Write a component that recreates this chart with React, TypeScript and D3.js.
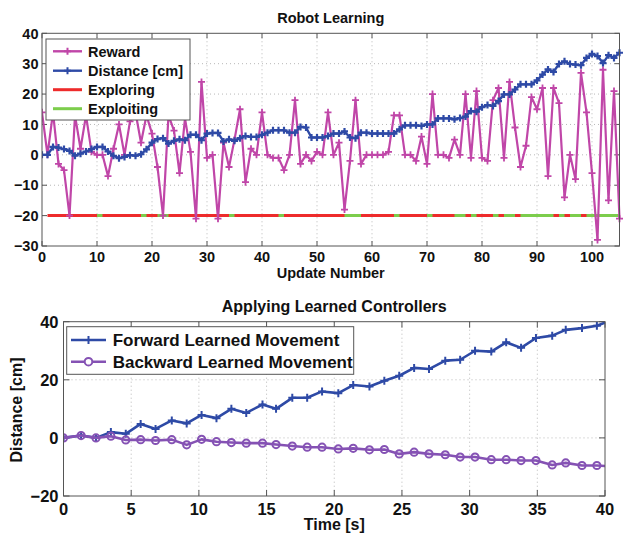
import React from 'react';
import * as d3 from 'd3';

// ---------- Top chart data ----------
const rewardValues = [
  14, 0, 14, -3, -5, -20, 13, 2, 13, 1,
  0, 0, -7, 2, 10, 0, 11, 14, 4, 13,
  7, -4, -20, 13, 8, -6, 12, 1, -21, 24,
  -1, 0, -21, 4, -4, 5, 15, -9, 2, 0,
  14, 0, -1, -1, -5, 0, 18, -3, 0, -2,
  1, 0, 14, 0, 4, -18, -2, 18, -3, 0,
  0, 0, 0, 1, 13, 13, 0, 0, -2, 6,
  -3, 20, 0, 0, -1, 5, 0, 20, -1, 21,
  -1, -2, 18, 22, -1, 24, 9, -4, 3, 19,
  15, 22, -7, 22, 17, -14, 0, -8, 27, 14,
  -6, -28, 28, -15, 21, -21,
];
const distanceValues = [
  0, 0, 2.6, 2.4, 1.9, 1.3, -0.3, 0.4, 1.1, 1.9,
  2.6, 2.6, 1.1, -0.3, -1.1, -0.7, -0.1, -0.3, 0.2, 1.8,
  4.0, 5.2, 5.5, 3.7, 4.6, 5.1, 4.8, 6.6, 6.6, 4.8,
  7.0, 7.2, 7.2, 4.4, 5.1, 4.6, 5.5, 6.2, 5.9, 5.9,
  6.6, 7.3, 8.1, 8.1, 8.1, 7.3, 7.3, 9.2, 9.0, 5.7,
  5.7, 5.7, 6.2, 7.0, 7.0, 7.7, 5.7, 5.5, 7.3, 7.3,
  7.0, 7.0, 7.0, 7.0, 7.0, 8.4, 9.7, 9.7, 9.7, 9.5,
  10.0, 10.0, 12.0, 12.0, 12.0, 11.7, 12.1, 12.6, 14.4, 14.2,
  15.7, 16.4, 16.1, 17.7, 19.9, 19.9, 21.5, 23.2, 23.2, 23.2,
  24.5, 26.4, 28.1, 27.3, 29.9, 30.8, 29.9, 29.7, 29.5, 31.9,
  33.2, 32.5, 30.2, 32.8, 31.9, 33.6,
];
const updateNumbers = rewardValues.map((_, i) => i);
const phaseFirstUpdate = 1;
const phaseLastUpdate = 105;
const phaseLevel = -20;
const exploitStarts = [10, 18, 21, 34, 43, 55, 64, 70, 75, 78, 82, 84, 87, 94, 96, 99];
const exploitEnds = [11, 19, 23, 35, 44, 58, 65, 71, 77, 79, 83, 86, 93, 95, 98, 105];
const topXTicks = [0, 10, 20, 30, 40, 50, 60, 70, 80, 90, 100];
const topYTicks = [-30, -20, -10, 0, 10, 20, 30, 40];
const topLegend = ['Reward', 'Distance [cm]', 'Exploring', 'Exploiting'];

// ---------- Bottom chart data ----------
const timeSeconds = [
  0, 1.3, 2.4, 3.5, 4.6, 5.7, 6.8, 8.0, 9.1, 10.2,
  11.3, 12.4, 13.5, 14.7, 15.7, 16.9, 18.0, 19.1, 20.3, 21.4,
  22.6, 23.7, 24.8, 25.9, 27.0, 28.2, 29.3, 30.4, 31.6, 32.7,
  33.8, 34.9, 36.1, 37.1, 38.3, 39.4, 40.5,
];
const forwardDistance = [
  0, 0.8, 0, 2, 1.4, 4.8, 3.1, 6, 5, 7.9,
  6.8, 10, 8.6, 11.5, 10, 13.8, 13.8, 16, 15.4, 18.2,
  17.7, 19.7, 21.4, 24.1, 23.7, 26.6, 26.9, 30, 29.7, 32.9,
  31, 34.4, 35.2, 37.2, 37.8, 38.6, 40.6,
];
const backwardDistance = [
  0, 0.8, 0, 0.6, -0.7, -0.6, -0.9, -0.6, -2.4, -0.5,
  -1.3, -1.6, -1.8, -1.8, -2.3, -2.8, -3.2, -3.2, -3.8, -3.6,
  -4.1, -4.0, -5.5, -4.9, -5.5, -5.8, -6.6, -6.6, -7.5, -7.5,
  -7.8, -7.8, -9.3, -8.6, -9.5, -9.5, -9.8,
];
const botXTicks = [0, 5, 10, 15, 20, 25, 30, 35, 40];
const botYTicks = [-20, 0, 20, 40];
const botLegend = ['Forward Learned Movement', 'Backward Learned Movement'];

// ---------- Styles ----------
const FONT = '"Liberation Sans", Arial, Helvetica, sans-serif';
const C_REWARD = '#c046a8';
const C_DIST = '#2e4aa6';
const C_RED = '#ee2b2b';
const C_GREEN = '#7ccd4c';
const C_FWD = '#2e4aa6';
const C_BWD = '#8552b4';
const GRID = '#b8b8b8';
const FRAME = '#555';

const plusPath = (x: number, y: number, h: number) =>
  `M${x - h},${y}H${x + h}M${x},${y - h}V${y + h}`;

function Frame({ x0, x1, y0, y1, xs, ys, xScale, yScale, tick }: any) {
  return (
    <g>
      {xs.map((t: number) => {
        const px = xScale(t);
        return (
          <g key={'gx' + t}>
            {px > x0 + 1 && px < x1 - 1 && (
              <line x1={px} x2={px} y1={y0} y2={y1} stroke={GRID} strokeWidth={1} strokeDasharray="1,3" />
            )}
            <line x1={px} x2={px} y1={y1} y2={y1 - tick} stroke={FRAME} strokeWidth={1} />
            <line x1={px} x2={px} y1={y0} y2={y0 + tick} stroke={FRAME} strokeWidth={1} />
          </g>
        );
      })}
      {ys.map((t: number) => {
        const py = yScale(t);
        return (
          <g key={'gy' + t}>
            {py > y0 + 1 && py < y1 - 1 && (
              <line x1={x0} x2={x1} y1={py} y2={py} stroke={GRID} strokeWidth={1} strokeDasharray="1,3" />
            )}
            <line x1={x0} x2={x0 + tick} y1={py} y2={py} stroke={FRAME} strokeWidth={1} />
            <line x1={x1} x2={x1 - tick} y1={py} y2={py} stroke={FRAME} strokeWidth={1} />
          </g>
        );
      })}
    </g>
  );
}

export default function App() {
  const xT = d3.scaleLinear().domain([0, 105]).range([42, 619.5]);
  const yT = d3.scaleLinear().domain([-30, 40]).range([246, 33.3]);
  const xB = d3.scaleLinear().domain([0, 40]).range([63.5, 605]);
  const yB = d3.scaleLinear().domain([-20, 40]).range([496, 321.7]);

  const lineT = d3.line<number>().x((_, i) => xT(updateNumbers[i])).y((d) => yT(d));
  const lineB = d3.line<number>().x((_, i) => xB(timeSeconds[i])).y((d) => yB(d));

  const tx0 = xT(0), tx1 = xT(105), ty0 = yT(40), ty1 = yT(-30);
  const bx0 = xB(0), bx1 = xB(40), by0 = yB(40), by1 = yB(-20);
  const tCx = (tx0 + tx1) / 2;
  const bCx = (bx0 + bx1) / 2;

  const topFont = 14.5;
  const botFont = 16.5;

  const tl = { x: 46, y: 39, w: 144, h: 81 };
  const tlRows = [51.3, 70.7, 89.7, 108.7];
  const tlColors = [C_REWARD, C_DIST, C_RED, C_GREEN];
  const bl = { x: 66.7, y: 326.7, w: 287, h: 47.6 };
  const blRows = [340, 361.7];

  return (
    <svg width={624} height={533} style={{ position: 'absolute', left: 0, top: 0, background: '#fff' }}
      fontFamily={FONT} fontWeight="bold">
      <defs>
        <clipPath id="clipTop"><rect x={tx0} y={ty0} width={tx1 - tx0 + 4} height={ty1 - ty0} /></clipPath>
        <clipPath id="clipBot"><rect x={bx0} y={by0} width={bx1 - bx0} height={by1 - by0} /></clipPath>
      </defs>
      <rect x={0} y={0} width={624} height={533} fill="#fff" />

      {/* ================= TOP CHART ================= */}
      <Frame x0={tx0} x1={tx1} y0={ty0} y1={ty1} xs={topXTicks} ys={topYTicks} xScale={xT} yScale={yT} tick={5} />

      <g clipPath="url(#clipTop)">
        <line x1={xT(phaseFirstUpdate)} x2={xT(phaseLastUpdate)} y1={yT(phaseLevel)} y2={yT(phaseLevel)}
          stroke={C_RED} strokeWidth={3} />
        {exploitStarts.map((s, i) => (
          <line key={'ex' + i} x1={xT(s)} x2={xT(exploitEnds[i])} y1={yT(phaseLevel)} y2={yT(phaseLevel)}
            stroke={C_GREEN} strokeWidth={3} />
        ))}
        <path d={lineT(rewardValues) || ''} fill="none" stroke={C_REWARD} strokeWidth={2.2} strokeLinejoin="round" />
        <path d={rewardValues.map((v, i) => plusPath(xT(updateNumbers[i]), yT(v), 3.5)).join('')}
          stroke={C_REWARD} strokeWidth={1.8} fill="none" />
        <path d={lineT(distanceValues) || ''} fill="none" stroke={C_DIST} strokeWidth={2.4} strokeLinejoin="round" />
        <path d={distanceValues.map((v, i) => plusPath(xT(updateNumbers[i]), yT(v), 3.5)).join('')}
          stroke={C_DIST} strokeWidth={2.2} fill="none" />
      </g>
      <rect x={tx0} y={ty0} width={tx1 - tx0} height={ty1 - ty0} fill="none" stroke={FRAME} strokeWidth={1} />

      {topXTicks.map((t) => (
        <text key={'tx' + t} x={xT(t)} y={261.5} textAnchor="middle" fontSize={topFont} fill="#111">{t}</text>
      ))}
      {topYTicks.map((t) => (
        <text key={'ty' + t} x={38.5} y={yT(t)} dy="0.36em" textAnchor="end" fontSize={topFont} fill="#111">
          {t < 0 ? '\u2212' + Math.abs(t) : t}
        </text>
      ))}
      <text x={tCx} y={22.5} textAnchor="middle" fontSize={topFont} fill="#111">Robot Learning</text>
      <text x={tCx} y={278} textAnchor="middle" fontSize={topFont} fill="#111">Update Number</text>

      <rect x={tl.x} y={tl.y} width={tl.w} height={tl.h} fill="#fff" stroke={FRAME} strokeWidth={1} />
      {topLegend.map((name, i) => (
        <g key={'tl' + i}>
          <line x1={53} x2={82} y1={tlRows[i]} y2={tlRows[i]} stroke={tlColors[i]}
            strokeWidth={i >= 2 ? 3 : 2.4} />
          {i < 2 && (
            <path d={plusPath(67.5, tlRows[i], 3.5)} stroke={tlColors[i]} strokeWidth={2} />
          )}
          <text x={88} y={tlRows[i]} dy="0.36em" fontSize={topFont} fill="#111">{name}</text>
        </g>
      ))}

      {/* ================= BOTTOM CHART ================= */}
      <Frame x0={bx0} x1={bx1} y0={by0} y1={by1} xs={botXTicks} ys={botYTicks} xScale={xB} yScale={yB} tick={6} />

      <g clipPath="url(#clipBot)">
        <path d={lineB(forwardDistance) || ''} fill="none" stroke={C_FWD} strokeWidth={2.6} strokeLinejoin="round" />
        <path d={forwardDistance.map((v, i) => plusPath(xB(timeSeconds[i]), yB(v), 4)).join('')}
          stroke={C_FWD} strokeWidth={2} fill="none" />
        <path d={lineB(backwardDistance) || ''} fill="none" stroke={C_BWD} strokeWidth={2.6} strokeLinejoin="round" />
        {backwardDistance.map((v, i) => (
          <circle key={'bc' + i} cx={xB(timeSeconds[i])} cy={yB(v)} r={3.6} fill="none" stroke={C_BWD} strokeWidth={2} />
        ))}
      </g>
      <rect x={bx0} y={by0} width={bx1 - bx0} height={by1 - by0} fill="none" stroke={FRAME} strokeWidth={1} />

      {botXTicks.map((t) => (
        <text key={'bx' + t} x={xB(t)} y={515} textAnchor="middle" fontSize={botFont} fill="#111">{t}</text>
      ))}
      {botYTicks.map((t) => (
        <text key={'by' + t} x={58.5} y={yB(t)} dy="0.36em" textAnchor="end" fontSize={botFont} fill="#111">
          {t < 0 ? '\u2212' + Math.abs(t) : t}
        </text>
      ))}
      <text x={bCx} y={311.5} textAnchor="middle" fontSize={16} fill="#111">Applying Learned Controllers</text>
      <text x={bCx} y={530} textAnchor="middle" fontSize={16} fill="#111">Time [s]</text>
      <text transform={`translate(21.5, 410) rotate(-90)`} textAnchor="middle" fontSize={16} fill="#111">Distance [cm]</text>

      <rect x={bl.x} y={bl.y} width={bl.w} height={bl.h} fill="#fff" stroke={FRAME} strokeWidth={1} />
      {botLegend.map((name, i) => (
        <g key={'bl' + i}>
          <line x1={71} x2={106} y1={blRows[i]} y2={blRows[i]} stroke={i === 0 ? C_FWD : C_BWD} strokeWidth={2.6} />
          {i === 0 ? (
            <path d={plusPath(88.5, blRows[i], 4)} stroke={C_FWD} strokeWidth={2} />
          ) : (
            <circle cx={88.5} cy={blRows[i]} r={3.8} fill="#fff" stroke={C_BWD} strokeWidth={2} />
          )}
          <text x={112.7} y={blRows[i]} dy="0.36em" fontSize={17} fill="#111">{name}</text>
        </g>
      ))}
    </svg>
  );
}
